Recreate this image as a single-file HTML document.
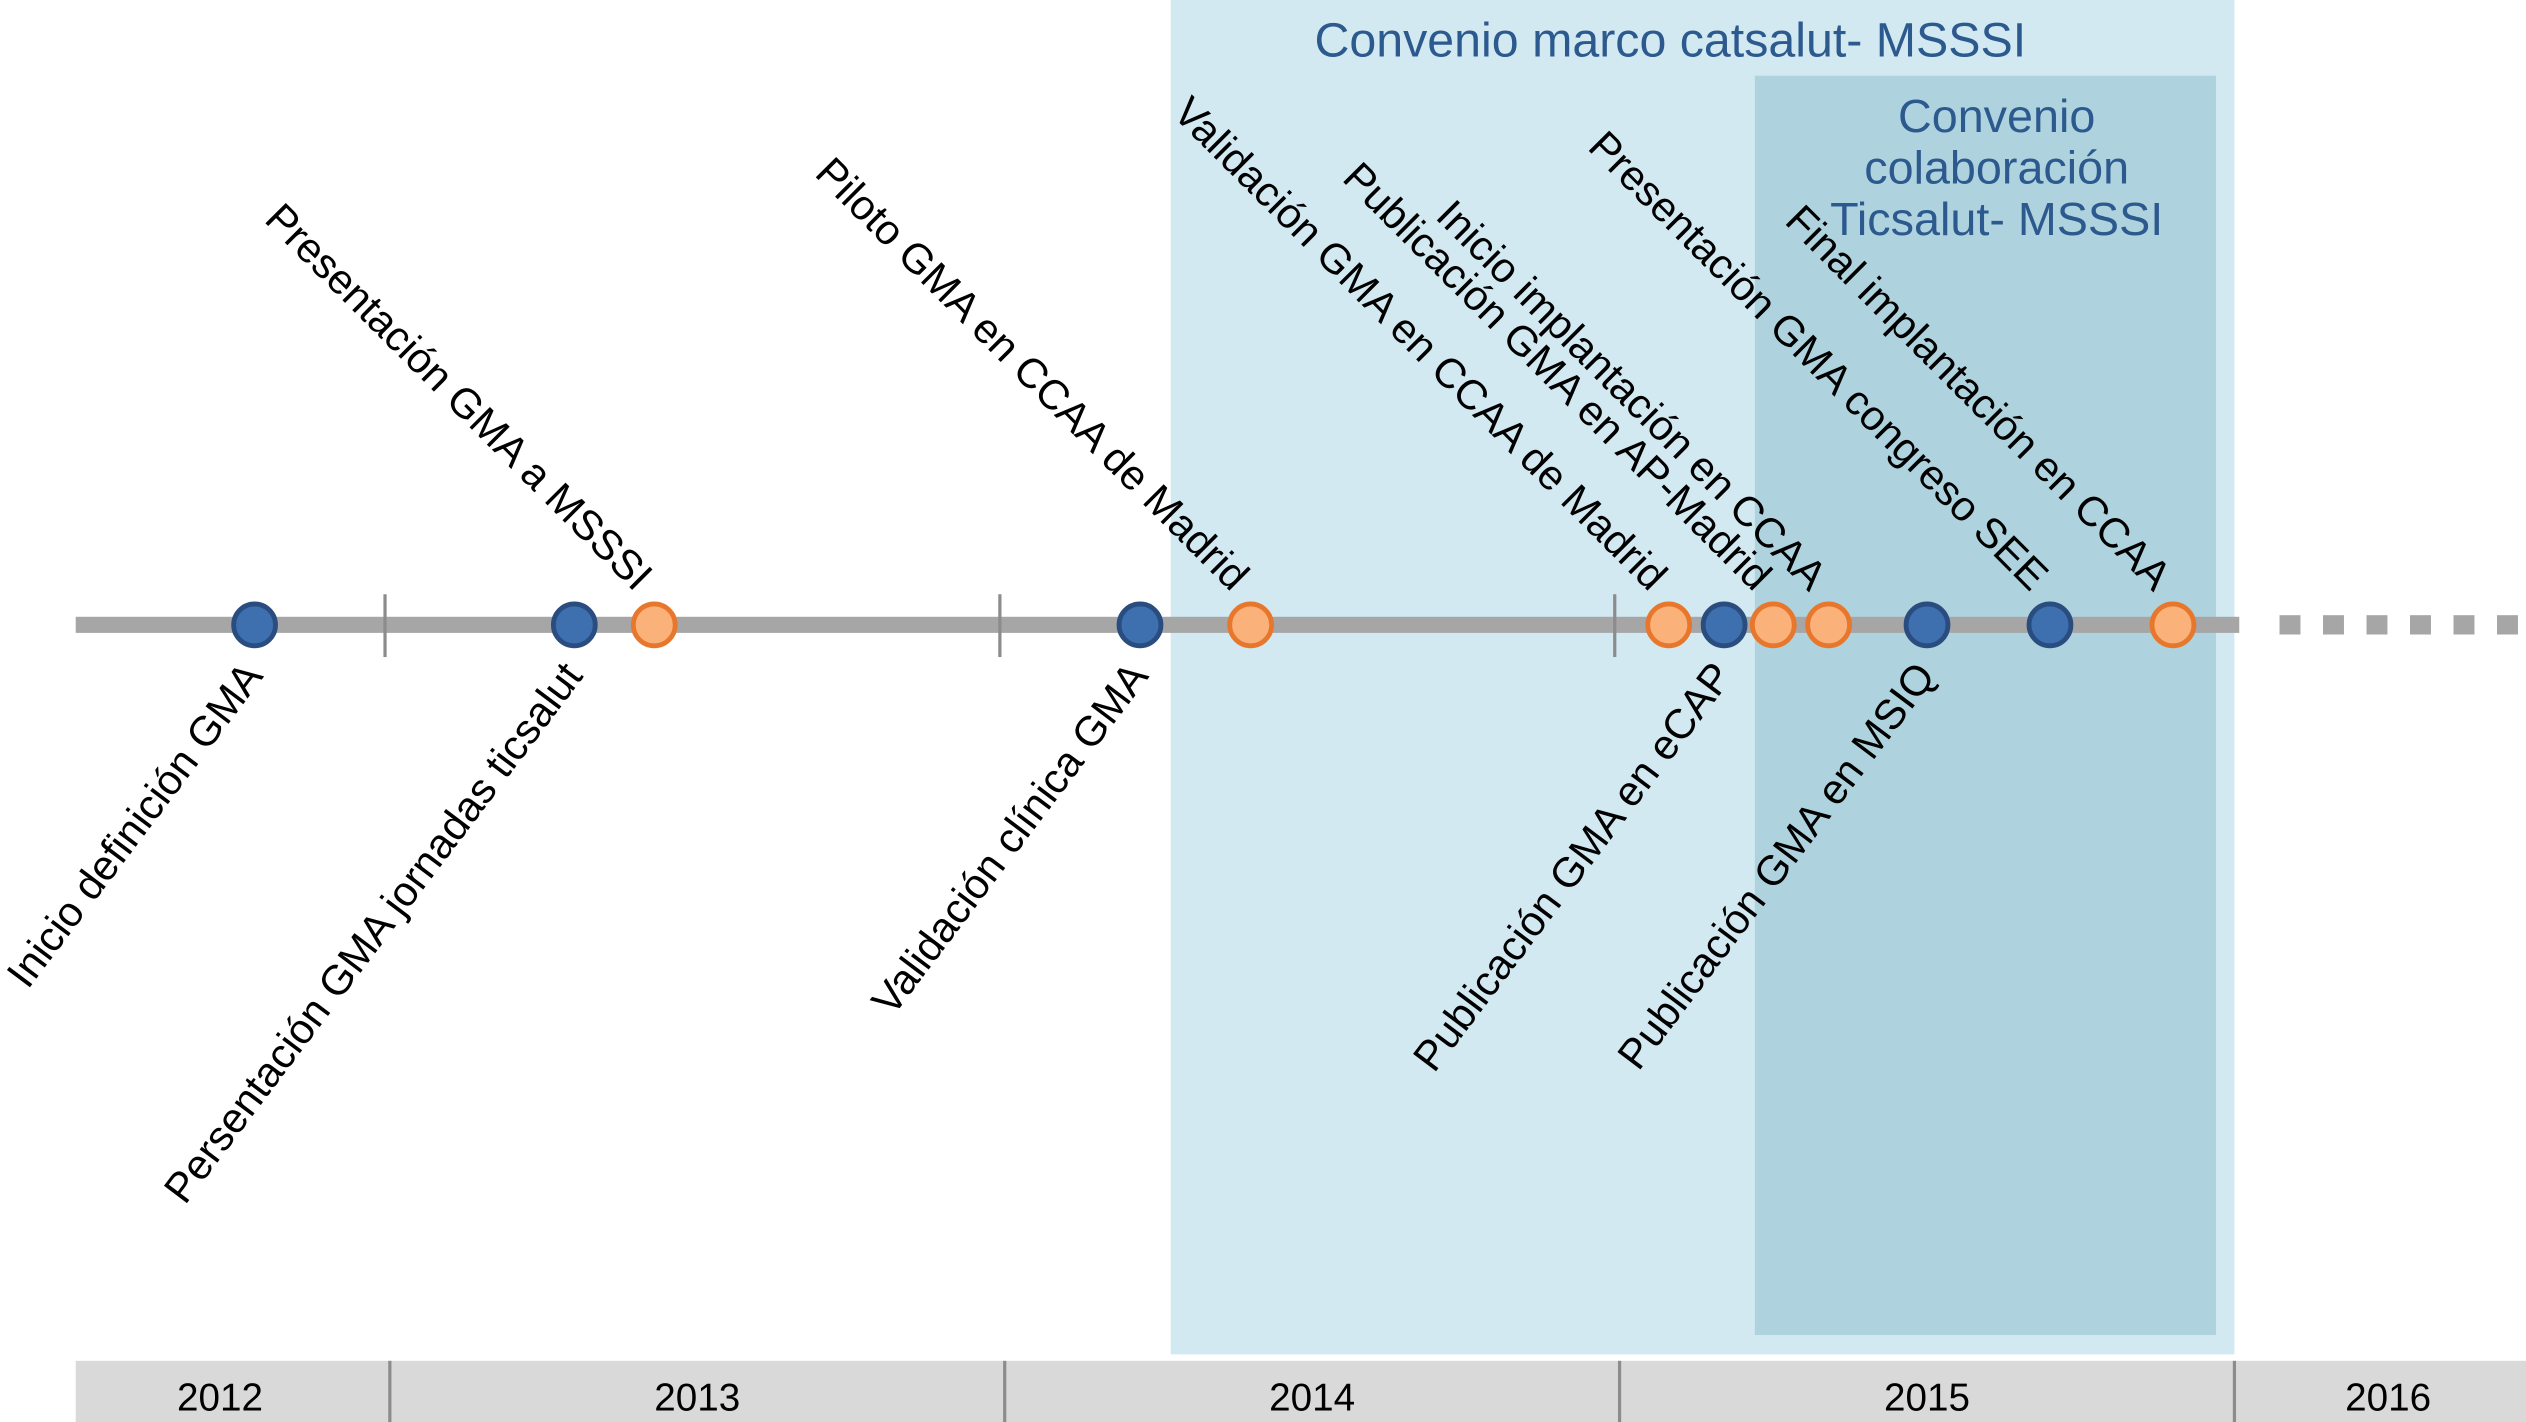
<!DOCTYPE html>
<html><head><meta charset="utf-8"><style>
html,body{margin:0;padding:0;background:#fff;}
svg{display:block;}
text{font-family:"Liberation Sans",Arial,sans-serif;}
</style></head><body>
<svg id="chart" width="2526" height="1422" viewBox="0 0 1568 883" preserveAspectRatio="none" xmlns="http://www.w3.org/2000/svg"></svg>
<script>
const years = [2012, 2013, 2014, 2015, 2016];
const yearLabelPos = [2012.75, 2013.5, 2014.5, 2015.5, 2016.25];
const eventDates = [2012.78, 2013.30, 2013.43, 2014.22, 2014.40, 2015.08, 2015.17, 2015.25, 2015.34, 2015.50, 2015.70, 2015.90];
const eventTypes = ["blue","blue","orange","blue","orange","orange","blue","orange","orange","blue","blue","orange"];
const eventLabels = ["Inicio definición GMA","Persentación GMA jornadas ticsalut","Presentación GMA a MSSSI","Validación clínica GMA","Piloto GMA en CCAA de Madrid","Validación GMA en CCAA de Madrid","Publicación GMA en eCAP","Publicación GMA en AP-Madrid","Inicio implantación en CCAA","Publicación GMA en MSIQ","Presentación GMA congreso SEE","Final implantación en CCAA"];
const eventSides = ["below","below","above","below","above","above","below","above","above","below","above","above"];
const periodStarts = [2014.27, 2015.22];
const periodEnds = [2016.0, 2015.97];
const tickYears = [2013, 2014, 2015];

const NS = "http://www.w3.org/2000/svg";
const svg = document.getElementById("chart");
const x = v => 242 + (v - 2013) * 381.67;
function mk(tag, attrs, parent){const e=document.createElementNS(NS,tag);for(const k in attrs)e.setAttribute(k,attrs[k]);(parent||svg).appendChild(e);return e;}

const p1 = mk("rect",{x:x(periodStarts[0]),y:0,width:x(periodEnds[0])-x(periodStarts[0]),height:841,fill:"#d2e9f1"});


const p2 = mk("rect",{x:x(periodStarts[1]),y:47,width:x(periodEnds[1])-x(periodStarts[1]),height:782,fill:"#afd3de"});


const t1 = mk("text",{x:(x(periodStarts[0])+x(periodEnds[0]))/2-20,y:35,"font-size":30,fill:"#2d5a8e","text-anchor":"middle"});
t1.textContent="Convenio marco catsalut- MSSSI";


const t2lines=["Convenio","colaboración","Ticsalut- MSSSI"];
t2lines.forEach((s,i)=>{const t=mk("text",{x:(x(periodStarts[1])+x(periodEnds[1]))/2+7,y:82+i*32,"font-size":29,fill:"#2d5a8e","text-anchor":"middle"});t.textContent=s;

});

const ax = mk("rect",{x:47,y:383,width:1343,height:10,fill:"#a6a6a6"});


for(let i=0;i<6;i++){const d=mk("rect",{x:1415+i*27,y:382,width:13,height:12,fill:"#a6a6a6"});

}
tickYears.forEach(v=>{const l=mk("line",{x1:x(v)-3,x2:x(v)-3,y1:369,y2:408,stroke:"#8c8c8c","stroke-width":2});

});

const yb = mk("rect",{x:47,y:845,width:1521,height:38,fill:"#d9d9d9"});


years.slice(1).forEach(v=>{const l=mk("line",{x1:x(v),x2:x(v),y1:845,y2:883,stroke:"#8c8c8c","stroke-width":2});

});
years.forEach((v,i)=>{const t=mk("text",{x:x(yearLabelPos[i])-(i==0?10:0),y:876,"font-size":24,fill:"#000","text-anchor":"middle"});t.textContent=v;

});

eventDates.forEach((d,i)=>{
  const cx=x(d);
  const c=mk("circle",{cx:cx,cy:388,r:13,fill:eventTypes[i]=="blue"?"#3e6fae":"#fbb27a",stroke:eventTypes[i]=="blue"?"#2a4d80":"#e8772e","stroke-width":3});
  
  
  let t;
  if(eventSides[i]=="above"){
    t=mk("text",{x:0,y:0,"font-size":26,fill:"#000","text-anchor":"end",transform:`translate(${cx-12},${368}) rotate(45)`});
  } else {
    t=mk("text",{x:0,y:0,"font-size":26,fill:"#000","text-anchor":"end",transform:`translate(${cx+6},${420}) rotate(-53)`});
  }
  t.textContent=eventLabels[i];
  
  
});
</script>
</body></html>
